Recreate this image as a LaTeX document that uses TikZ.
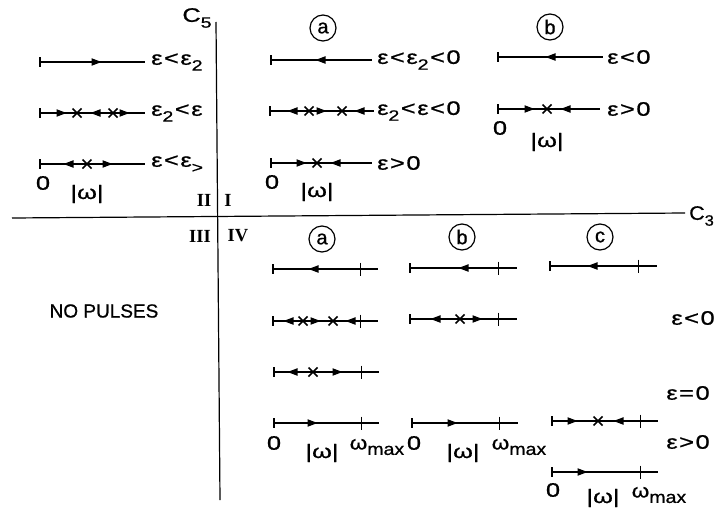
\documentclass[tikz,border=0pt]{standalone}
\usepackage{fontspec}
\usepackage{graphicx}
\setmainfont{Liberation Sans}[FakeBold=0.8]
\newfontfamily\romfont{Liberation Serif}
\newcommand{\lowsub}[1]{\raisebox{-0.3em}{\fontsize{15}{15}\selectfont #1}}
\newcommand{\maxsub}{\raisebox{-0.28em}{\fontsize{17}{17}\selectfont max}}
\newcommand{\rl}[1]{\hspace{1.2pt}#1\hspace{1.2pt}}
\newcommand{\widetxt}[1]{\scalebox{1.3}[1]{#1}}
\tikzset{
  flowline/.style={line width=1.3pt},
  axisline/.style={line width=1.2pt},
  lbl/.style={font=\fontsize{19.5}{19.5}\selectfont, anchor=west, inner sep=0pt},
  txt/.style={font=\fontsize{19.5}{19.5}\selectfont, inner sep=0pt},
  plain/.style={font=\fontsize{19}{19}\selectfont, inner sep=0pt},
  roman/.style={font=\romfont\bfseries\fontsize{18.5}{18.5}\selectfont, inner sep=0pt},
  circ/.style={draw, circle, line width=1.2pt, minimum size=26pt, inner sep=0pt, font=\fontsize{20}{20}\selectfont},
  pics/ra/.style={code={\fill (-5.5,-3.8) -- (4.5,0) -- (-5.5,3.8) -- cycle;}},
  pics/la/.style={code={\fill (5.5,-3.8) -- (-4.5,0) -- (5.5,3.8) -- cycle;}},
  pics/fx/.style={code={\draw[line width=1.6pt] (-4.5,-4.5) -- (4.5,4.5) (-4.5,4.5) -- (4.5,-4.5);}},
  pics/endbar/.style={code={\draw[line width=1.2pt] (0,-5) -- (0,5);}},
  pics/maxtick/.style={code={\draw[line width=1pt] (0,-6.5) -- (0,6.5);}},
}
\begin{document}
\begin{tikzpicture}[x=1pt,y=-1pt]
\useasboundingbox (0,0) rectangle (719,511);
% axes
\coordinate (vtop) at (216,22);
\coordinate (vbot) at (220,500);
\coordinate (hleft) at (12,218);
\coordinate (hright) at (685,213);
\draw[axisline] (vtop) -- (vbot);
\draw[axisline] (hleft) -- (hright);
\node[txt] (c5) at (197,18) {\widetxt{C\lowsub{5}}};
\node[txt, anchor=west] (c3) at (689,216) {\scalebox{1.1}[1]{C\lowsub{3}}};
\node[roman] (q2) at (204,200) {II};
\node[roman] (q1) at (228,200) {I};
\node[roman] (q3) at (200,236) {III};
\node[roman] (q4) at (238,236) {IV};

% ---------------- Quadrant II
\draw[flowline] (40,62) -- (145,62);
\pic at (40,62) {endbar}; \pic at (97,62) {ra};
\node[lbl] (l21) at (151,62) {\widetxt{ε\rl{<}ε\lowsub{2}}};
\draw[flowline] (40,113) -- (145,113);
\pic at (40,113) {endbar}; \pic at (62,113) {ra}; \pic at (77,113) {fx};
\pic at (95,113) {la}; \pic at (113,113) {fx}; \pic at (125,113) {ra};
\node[lbl] (l22) at (151,113) {\widetxt{ε\lowsub{2}\rl{<}ε}};
\draw[flowline] (40,164) -- (145,164);
\pic at (40,164) {endbar}; \pic at (68,164) {la}; \pic at (87,164) {fx}; \pic at (108,164) {ra};
\node[lbl] (l23) at (151,164) {\widetxt{ε\rl{<}ε\lowsub{>}}};
\node[txt] (z2) at (43,183) {\widetxt{0}};
\node[txt] (w2) at (87,194) {\widetxt{|ω|}};

% ---------------- Quadrant I (a)
\node[circ] (ca1) at (323,28) {a};
\draw[flowline] (271,60) -- (372,60);
\pic at (271,60) {endbar}; \pic at (320,60) {la};
\node[lbl] (la1) at (377,60) {\widetxt{ε\rl{<}ε\lowsub{2}\rl{<}0}};
\draw[flowline] (270,111) -- (374,111);
\pic at (270,111) {endbar}; \pic at (292,111) {la}; \pic at (309,111) {fx};
\pic at (322,111) {ra}; \pic at (342,111) {fx}; \pic at (359,111) {la};
\node[lbl] (la2) at (377,111) {\widetxt{ε\lowsub{2}\rl{<}ε\rl{<}0}};
\draw[flowline] (271,163) -- (372,163);
\pic at (271,163) {endbar}; \pic at (302,163) {ra}; \pic at (317,163) {fx}; \pic at (335,163) {la};
\node[lbl] (la3) at (377,163) {\widetxt{ε\rl{>}0}};
\node[txt] (za) at (272,182) {\widetxt{0}};
\node[txt] (wa) at (317,192) {\widetxt{|ω|}};

% ---------------- Quadrant I (b)
\node[circ] (cb1) at (550,27) {b};
\draw[flowline] (498,57) -- (603,57);
\pic at (498,57) {endbar}; \pic at (550,57) {la};
\node[lbl] (lb1) at (607,57) {\widetxt{ε\rl{<}0}};
\draw[flowline] (498,109) -- (600,109);
\pic at (498,109) {endbar}; \pic at (530,109) {ra}; \pic at (547,109) {fx}; \pic at (565,109) {la};
\node[lbl] (lb2) at (607,109) {\widetxt{ε\rl{>}0}};
\node[txt] (zb) at (500,128) {\widetxt{0}};
\node[txt] (wb) at (547,142) {\widetxt{|ω|}};

% ---------------- Quadrant III
\node[plain] (np) at (104,311) {NO PULSES};

% ---------------- Quadrant IV (a)
\node[circ] (ca4) at (322,239) {a};
\draw[flowline] (273,269) -- (378,269);
\pic at (273,269) {endbar}; \pic at (313,269) {la}; \pic at (360,269) {maxtick};
\draw[flowline] (273,321) -- (378,321);
\pic at (273,321) {endbar}; \pic at (288,321) {la}; \pic at (303,321) {fx};
\pic at (316,321) {ra}; \pic at (333,321) {fx}; \pic at (350,321) {la}; \pic at (360,321) {maxtick};
\draw[flowline] (274,372) -- (379,372);
\pic at (274,372) {endbar}; \pic at (292,372) {la}; \pic at (313,372) {fx};
\pic at (338,372) {ra}; \pic at (361,372) {maxtick};
\draw[flowline] (274,423) -- (379,423);
\pic at (274,423) {endbar}; \pic at (313,423) {ra}; \pic at (361,423) {maxtick};
\node[txt] (z4a) at (274,443) {\widetxt{0}};
\node[txt] (w4a) at (322,453) {\widetxt{|ω|}};
\node[txt] (m4a) at (377,447) {\scalebox{1.15}[1]{ω\maxsub}};

% ---------------- Quadrant IV (b)
\node[circ] (cb4) at (462,237) {b};
\draw[flowline] (410,268) -- (517,268);
\pic at (410,268) {endbar}; \pic at (463,268) {la}; \pic at (498,268) {maxtick};
\draw[flowline] (410,319) -- (517,319);
\pic at (410,319) {endbar}; \pic at (435,319) {la}; \pic at (460,319) {fx};
\pic at (478,319) {ra}; \pic at (498,319) {maxtick};
\draw[flowline] (412,423) -- (518,423);
\pic at (412,423) {endbar}; \pic at (453,423) {ra}; \pic at (499,423) {maxtick};
\node[txt] (z4b) at (414,443) {\widetxt{0}};
\node[txt] (w4b) at (463,453) {\widetxt{|ω|}};
\node[txt] (m4b) at (519,447) {\scalebox{1.15}[1]{ω\maxsub}};

% ---------------- Quadrant IV (c)
\node[circ] (cc4) at (600,237) {c};
\draw[flowline] (550,266) -- (657,266);
\pic at (550,266) {endbar}; \pic at (592,266) {la}; \pic at (638,266) {maxtick};
\draw[flowline] (552,421) -- (658,421);
\pic at (552,421) {endbar}; \pic at (573,421) {ra}; \pic at (598,421) {fx};
\pic at (618,421) {la}; \pic at (640,421) {maxtick};
\draw[flowline] (552,472) -- (658,472);
\pic at (552,472) {endbar}; \pic at (583,472) {ra}; \pic at (640,472) {maxtick};
\node[txt] (z4c) at (553,490) {\widetxt{0}};
\node[txt] (w4c) at (603,498) {\widetxt{|ω|}};
\node[txt] (m4c) at (659,495) {\scalebox{1.15}[1]{ω\maxsub}};

% right-hand labels
\node[txt] (eneg) at (693,318) {\widetxt{ε\rl{<}0}};
\node[txt] (ezero) at (688,393) {\widetxt{ε\rl{=}0}};
\node[txt] (epos) at (688,442) {\widetxt{ε\rl{>}0}};
\end{tikzpicture}
\end{document}
